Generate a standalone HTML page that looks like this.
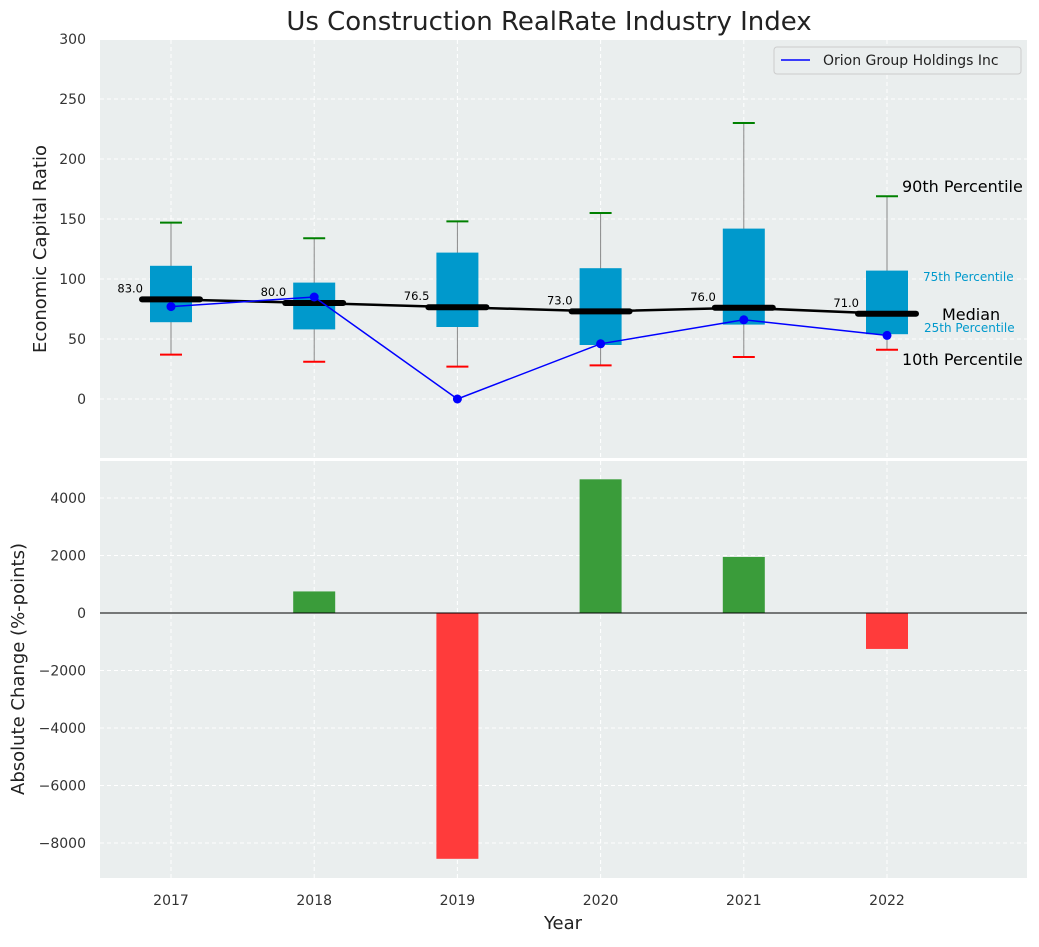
<!DOCTYPE html>
<html><head><meta charset="utf-8"><style>
body{margin:0;background:#fff;font-family:"Liberation Sans","DejaVu Sans",sans-serif;}
svg text{font-family:"DejaVu Sans","Liberation Sans",sans-serif;}
</style></head><body>
<svg id="c" width="1039" height="942" xmlns="http://www.w3.org/2000/svg"></svg>
<script>
const years=[2017,2018,2019,2020,2021,2022];
const q1=[64,58,60,45,62,54];
const q3=[111,97,122,109,142,107];
const p10=[37,31,27,28,35,41];
const p90=[147,134,148,155,230,169];
const medians=[83,80,76.5,73,76,71];
const orion=[77,85,0,46,66,53];
const changes=[0,750,-8550,4650,1950,-1250];
const topTicks=[0,50,100,150,200,250,300];
const botTicks=[-8000,-6000,-4000,-2000,0,2000,4000];

const NS="http://www.w3.org/2000/svg";
const svg=document.getElementById('c');
function el(t,a,p){const e=document.createElementNS(NS,t);for(const k in a)e.setAttribute(k,a[k]);(p||svg).appendChild(e);return e;}
const X=v=>171+(v-2017)*143.2;
const YT=v=>399-v*1.2;
const YB=v=>613-v*0.02875;
const L=100,R=1027;
// panels
let bg1=el('rect',{x:L,y:40,width:R-L,height:418,fill:'#eaeeee'});

let bg2=el('rect',{x:L,y:461,width:R-L,height:417,fill:'#eaeeee'});

// grids
years.forEach(y=>{
 el('line',{x1:X(y),x2:X(y),y1:40,y2:458,stroke:'#fff','stroke-dasharray':'4,3'});
 el('line',{x1:X(y),x2:X(y),y1:461,y2:878,stroke:'#fff','stroke-dasharray':'4,3'});
 let t=el('text',{x:X(y),y:905,'text-anchor':'middle','font-size':14,fill:'#333'});t.textContent=y;
 
});
topTicks.forEach(v=>{
 el('line',{x1:L,x2:R,y1:YT(v),y2:YT(v),stroke:'#fff','stroke-dasharray':'4,3'});
 let t=el('text',{x:86,y:YT(v)+5,'text-anchor':'end','font-size':14,fill:'#333'});t.textContent=v;
 
});
botTicks.forEach(v=>{
 el('line',{x1:L,x2:R,y1:YB(v),y2:YB(v),stroke:'#fff','stroke-dasharray':'4,3'});
 let t=el('text',{x:86,y:YB(v)+5,'text-anchor':'end','font-size':14,fill:'#333'});t.textContent=(v<0?'\u2212'+(-v):v);
 
});
// boxes
years.forEach((y,i)=>{
 const x=X(y);
 el('line',{x1:x,x2:x,y1:YT(p90[i]),y2:YT(p10[i]),stroke:'#888','stroke-width':1});
 let b=el('rect',{x:x-21,y:YT(q3[i]),width:42,height:YT(q1[i])-YT(q3[i]),fill:'#0099cc'});
 
 el('line',{x1:x-11,x2:x+11,y1:YT(p90[i]),y2:YT(p90[i]),stroke:'green','stroke-width':2});
 el('line',{x1:x-11,x2:x+11,y1:YT(p10[i]),y2:YT(p10[i]),stroke:'red','stroke-width':2});
});
// median line
let mp=years.map((y,i)=>X(y)+','+YT(medians[i])).join(' ');
let ml=el('polyline',{points:mp,fill:'none',stroke:'#000','stroke-width':2.5});

years.forEach((y,i)=>{
 let m=el('line',{x1:X(y)-29,x2:X(y)+29,y1:YT(medians[i]),y2:YT(medians[i]),stroke:'#000','stroke-width':6,'stroke-linecap':'round'});
 
 let t=el('text',{x:X(y)-28,y:YT(medians[i])-7,'text-anchor':'end','font-size':11.5,fill:'#000'});t.textContent=medians[i].toFixed(1);
 
});
// orion
let op=years.map((y,i)=>X(y)+','+YT(orion[i])).join(' ');
let ol=el('polyline',{points:op,fill:'none',stroke:'#0000ff','stroke-width':1.5});

years.forEach((y,i)=>{let c=el('circle',{cx:X(y),cy:YT(orion[i]),r:4.5,fill:'#0000ff'});
 });
// annotations
[['90th Percentile',902,192,16,'#000'],['75th Percentile',923,281,12,'#0099cc'],['Median',942,320,16,'#000'],['25th Percentile',924,332,12,'#0099cc'],['10th Percentile',902,365,16,'#000']].forEach(a=>{
 let t=el('text',{x:a[1],y:a[2],'font-size':a[3],fill:a[4]});t.textContent=a[0];
 
});
// legend
let lg=el('g',{});
el('rect',{x:774,y:47,width:247,height:27,rx:3,fill:'#eaeeee',stroke:'#ccc'},lg);
el('line',{x1:781,x2:810,y1:60,y2:60,stroke:'#0000ff','stroke-width':1.5},lg);
let lt=el('text',{x:823,y:65,'font-size':14,fill:'#222'},lg);lt.textContent='Orion Group Holdings Inc';
// bars
years.forEach((y,i)=>{
 const v=changes[i];
 let b=el('rect',{x:X(y)-21,y:Math.min(YB(v),YB(0)),width:42,height:Math.abs(YB(v)-YB(0)),fill:v>=0?'#3a9c3a':'#ff3b3b'});
 
});
el('line',{x1:L,x2:R,y1:YB(0),y2:YB(0),stroke:'#000','stroke-width':1});
// titles
let tt=el('text',{x:549,y:30,'text-anchor':'middle','font-size':26,fill:'#222'});tt.textContent='Us Construction RealRate Industry Index';

let yt=el('text',{x:0,y:0,'text-anchor':'middle','font-size':18,fill:'#222',transform:'translate(46,249) rotate(-90)'});yt.textContent='Economic Capital Ratio';

let yb=el('text',{x:0,y:0,'text-anchor':'middle','font-size':18,fill:'#222',transform:'translate(24,669) rotate(-90)'});yb.textContent='Absolute Change (%-points)';

let xt=el('text',{x:563,y:929,'text-anchor':'middle','font-size':18,fill:'#222'});xt.textContent='Year';

</script>
</body></html>
